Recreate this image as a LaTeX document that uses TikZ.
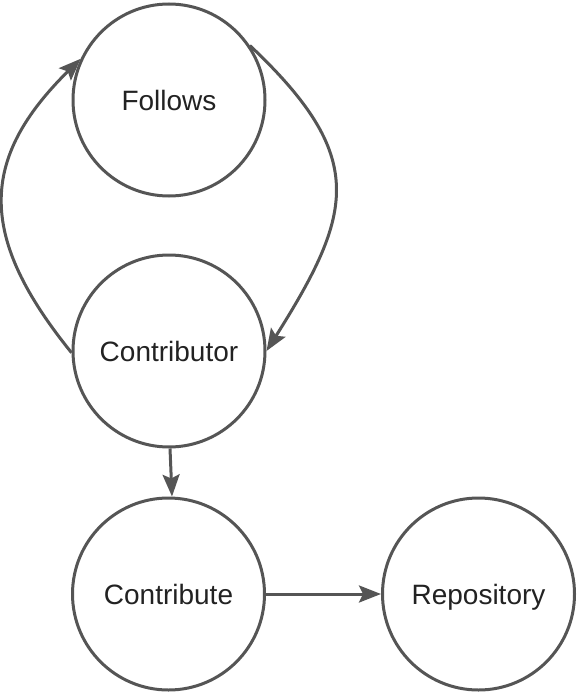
\documentclass[tikz,border=0pt]{standalone}
\usepackage{fontspec}
\setmainfont{Liberation Sans}
\usetikzlibrary{arrows.meta}
\definecolor{edge}{HTML}{555555}
\definecolor{txt}{HTML}{222222}
\tikzset{
  state/.style={circle, draw=edge, line width=3pt, minimum size=192pt, inner sep=0pt, text=txt, font=\fontsize{28}{32}\selectfont, text height=20pt, text depth=0pt},
  conn/.style={draw=edge, line width=3pt, -{Stealth[length=22pt,width=17pt,inset=4pt]}},
}
\begin{document}
\begin{tikzpicture}[x=1pt,y=-1pt]
\useasboundingbox (0,0) rectangle (586,693);
\node[state] (fol) at (169,100) {Follows};
\node[state] (con) at (169,351) {Contributor};
\node[state] (cb) at (168.5,594) {Contribute};
\node[state] (rep) at (478.5,594) {Repository};
\draw[conn] (con.181) .. controls (-22,237) and (-21.5,159.5) .. (fol.155);
\draw[conn] (fol.34) .. controls (368,157) and (354,212) .. (con.0);
\draw[conn] ([xshift=1pt]con.south) -- ([xshift=3.5pt]cb.north);
\draw[conn] (cb.east) -- (rep.west);
\end{tikzpicture}
\end{document}
